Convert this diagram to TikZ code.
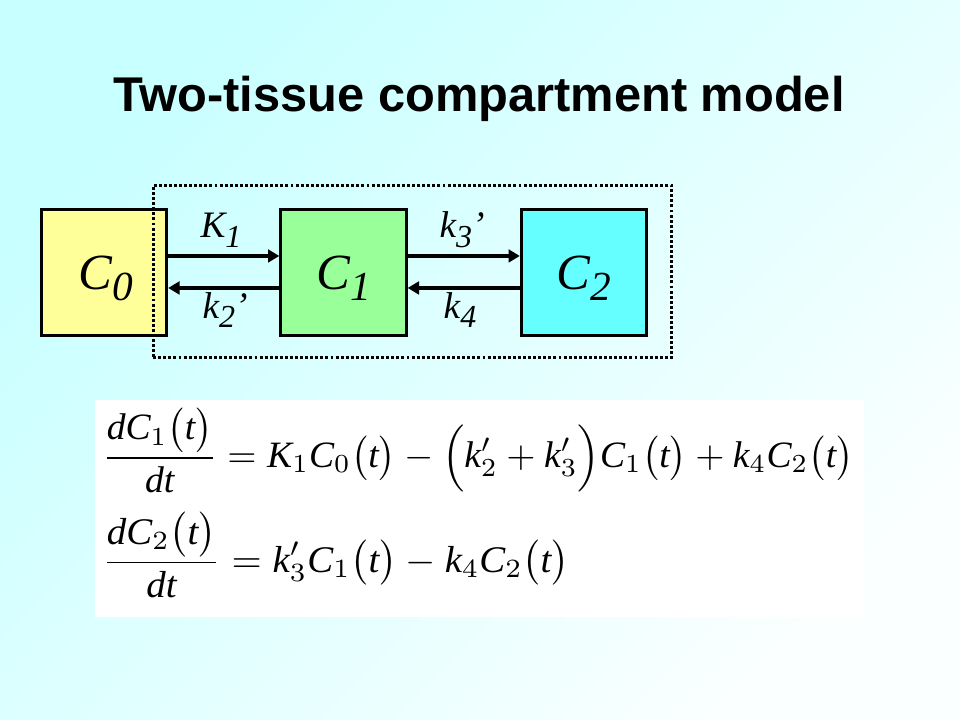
\documentclass[tikz,border=0pt]{standalone}
\usepackage{fontspec}
\setmainfont{Liberation Serif}
\newfontfamily\titlefont{Liberation Sans}
\usepackage{graphicx}
\usetikzlibrary{arrows.meta}
\definecolor{bgtop}{RGB}{200,255,255}
\definecolor{bgbot}{RGB}{250,255,255}
\definecolor{cyel}{RGB}{255,255,153}
\definecolor{cgrn}{RGB}{153,255,153}
\definecolor{ccyn}{RGB}{102,255,255}
\newcommand{\boxlab}[1]{{\fontsize{38}{38}\selectfont\itshape C\raisebox{-8pt}{\fontsize{31}{31}\selectfont #1}}}
\newcommand{\ratelab}[3]{{\fontsize{28}{28}\selectfont\itshape #1\raisebox{-7pt}{\fontsize{24}{24}\selectfont #2}#3}}
\begin{document}
\begin{tikzpicture}[x=0.75pt,y=-0.75pt,
  compbox/.style={draw=black,line width=2.25pt,minimum width=94pt,minimum height=94pt,inner sep=0pt},
  grpframe/.style={draw=black,line width=2.2pt,dash pattern=on 2.2pt off 1.6pt,minimum width=389pt,minimum height=129pt,inner sep=0pt},
  arr/.style={line width=2.6pt,-{Triangle[length=8.5pt,width=9.5pt]}},
  lab/.style={inner sep=0pt,anchor=base}]
\shade[top color=bgtop,bottom color=bgbot,shading angle=45] (0,0) rectangle (960,720);
\useasboundingbox (0,0) rectangle (960,720);
% title
\node[lab] (title) at (479,112) {\titlefont\bfseries\fontsize{36.6}{36.6}\selectfont Two-tissue compartment model};
% compartments
\node[compbox,fill=cyel] (c0) at (104,272.5) {};
\node[grpframe] (grp) at (412.5,271.5) {};
\node[compbox,fill=cgrn] (c1) at (343.5,272.5) {};
\node[compbox,fill=ccyn] (c2) at (584,272.5) {};
\node[lab] (c0l) at (106,290) {\boxlab{0}};
\node[lab] (c1l) at (344,290) {\boxlab{1}};
\node[lab] (c2l) at (584,290) {\boxlab{2}};
% arrows
\draw[arr] ([yshift=12.4pt]c0.east) -- ([yshift=12.4pt]c1.west);
\draw[arr] ([yshift=-11.6pt]c1.west) -- ([yshift=-11.6pt]c0.east);
\draw[arr] ([yshift=12.4pt]c1.east) -- ([yshift=12.4pt]c2.west);
\draw[arr] ([yshift=-11.6pt]c2.west) -- ([yshift=-11.6pt]c1.east);
% rate labels
\node[lab] (k1) at (221,238) {\ratelab{K}{1}{}};
\node[lab] (k3) at (462,238) {\ratelab{k}{3}{’}};
\node[lab] (k2) at (225,318) {\ratelab{k}{2}{’}};
\node[lab] (k4) at (460,318) {\ratelab{k}{4}{}};
% equations
\node[fill=white,minimum width=576.75pt,minimum height=162.75pt,inner sep=0pt,anchor=north west] (eqbg) at (95,400) {};
\node[inner sep=0pt,anchor=north west] (eq1) at (102,408) {\resizebox*{563.25pt}{63.75pt}{$\displaystyle
 \frac{\mathit{dC}_{1}\bigl(\mathit{t}\bigr)}{\mathit{dt}} = \mathit{K}_{1}\mathit{C}_{0}\bigl(\mathit{t}\bigr) - \Bigl(\mathit{k}^{\prime}_{2} + \mathit{k}^{\prime}_{3}\Bigr)\mathit{C}_{1}\bigl(\mathit{t}\bigr) + \mathit{k}_{4}\mathit{C}_{2}\bigl(\mathit{t}\bigr)$}};
\node[inner sep=0pt,anchor=north west] (eq2) at (102,512) {\resizebox*{350.25pt}{64.5pt}{$\displaystyle
 \frac{\mathit{dC}_{2}\bigl(\mathit{t}\bigr)}{\mathit{dt}} = \mathit{k}^{\prime}_{3}\mathit{C}_{1}\bigl(\mathit{t}\bigr) - \mathit{k}_{4}\mathit{C}_{2}\bigl(\mathit{t}\bigr)$}};
\end{tikzpicture}
\end{document}
